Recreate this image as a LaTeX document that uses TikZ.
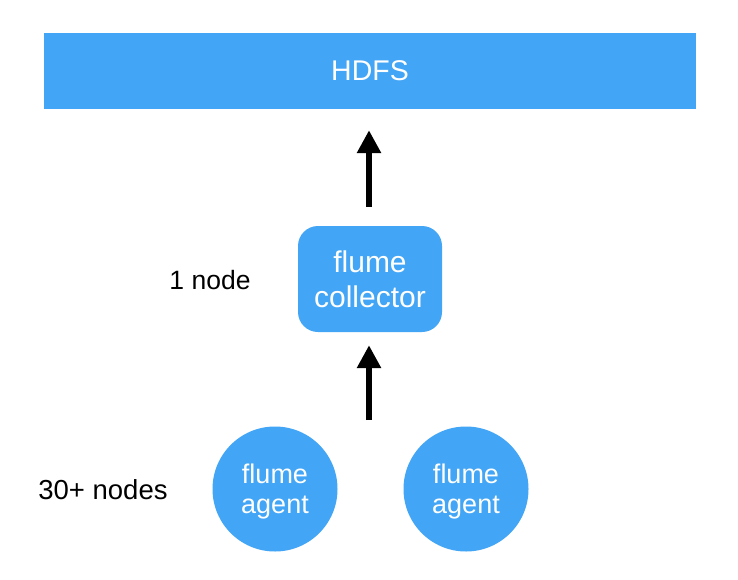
\documentclass[tikz,border=0pt]{standalone}
\usepackage{fontspec}
\setmainfont{Liberation Sans}
\usetikzlibrary{arrows.meta}
\definecolor{flblue}{RGB}{66,165,245}
\begin{document}
\begin{tikzpicture}[x=1pt,y=-1pt,
  box/.style={fill=flblue,draw=none,text=white,align=center},
  label/.style={text=black,inner sep=0pt},
  uparrow/.style={line width=6pt,-{Triangle[width=23pt,length=23pt]}}]
\useasboundingbox[fill=white] (0,0) rectangle (738,580);
\node[box,minimum width=652pt,minimum height=76pt,inner sep=0pt,
  font=\fontsize{28.5}{32}\selectfont] (hdfs) at (370,71) {HDFS};
\node[box,rounded corners=20pt,minimum width=144pt,minimum height=106pt,inner sep=0pt,
  font=\fontsize{30}{35}\selectfont] (coll) at (370,279) {flume\\collector};
\node[box,circle,minimum size=125pt,inner sep=0pt,text depth=0pt,
  font=\fontsize{27}{30}\selectfont] (ag1) at (275,489) {flume\\agent};
\node[box,circle,minimum size=125pt,inner sep=0pt,text depth=0pt,
  font=\fontsize{27}{30}\selectfont] (ag2) at (466,489) {flume\\agent};
\node[label,font=\fontsize{26.5}{30}\selectfont] (l1) at (210,280) {1 node};
\node[label,font=\fontsize{27.5}{31}\selectfont] (l2) at (103,490) {30+ nodes};
\coordinate (a2start) at (369,420);
\draw[uparrow,shorten <=19pt,shorten >=21pt] ([xshift=-1pt]coll.north) -- ([xshift=-1pt]coll.north |- hdfs.south);
\draw[uparrow,shorten >=13pt] (a2start) -- (a2start |- coll.south);
\end{tikzpicture}
\end{document}
